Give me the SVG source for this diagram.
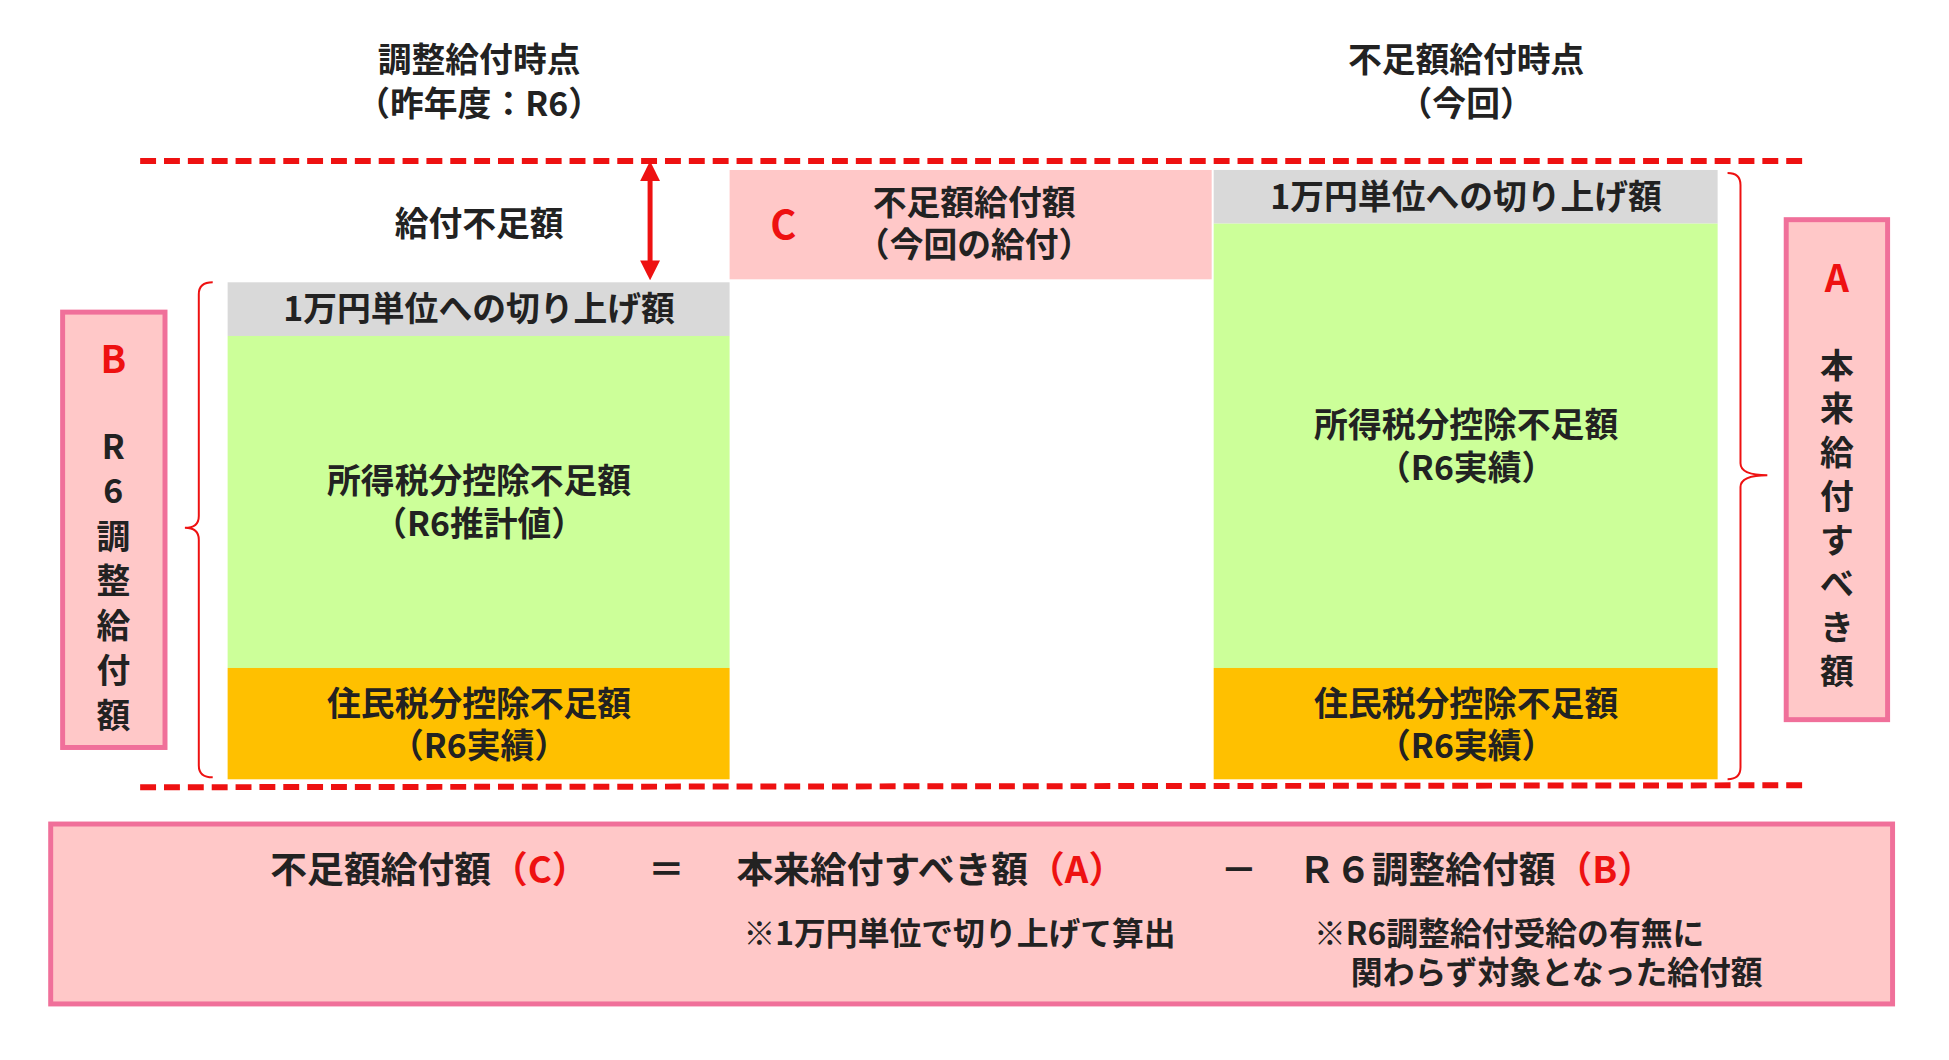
<svg xmlns="http://www.w3.org/2000/svg" width="1949" height="1060" viewBox="0 0 1949 1060">
<style>
text{font-family:"Noto Sans CJK JP","Noto Sans",sans-serif;font-weight:bold;fill:#222}
.m{text-anchor:middle}
.r{fill:#ee1111}
.gray{fill:#d9d9d9}.green{fill:#ccff99}.orange{fill:#ffc000}
.pink{fill:#ffc8c8;stroke:#f0709a;stroke-width:5}
.dash{stroke:#ee1111;stroke-width:6;stroke-dasharray:16,8}
.br{fill:none;stroke:#ee1111;stroke-width:2}
</style>
<defs><marker id="ah" viewBox="0 0 10 10" refX="5" refY="5" markerWidth="4" markerHeight="4" orient="auto-start-reverse"><path d="M0,0L10,5L0,10z" fill="#ee1111"/></marker></defs>
<g transform="scale(0.994)">
<g id="headers">
<text class="m" x="482" y="72" font-size="34">調整給付時点</text>
<text class="m" x="482" y="117" font-size="34">（昨年度：R6）</text>
<text class="m" x="1475" y="72" font-size="34">不足額給付時点</text>
<text class="m" x="1475" y="117" font-size="34">（今回）</text>
</g>
<g id="left-col">
<rect class="gray" x="229" y="284" width="505" height="54"/>
<text class="m" x="482" y="323" font-size="34">1万円単位への切り上げ額</text>
<rect class="green" x="229" y="338" width="505" height="334"/>
<text class="m" x="482" y="496" font-size="34">所得税分控除不足額</text>
<text class="m" x="482" y="539" font-size="34">（R6推計値）</text>
<rect class="orange" x="229" y="672" width="505" height="112"/>
<text class="m" x="482" y="720" font-size="34">住民税分控除不足額</text>
<text class="m" x="482" y="763" font-size="34">（R6実績）</text>
</g>
<g id="shortfall">
<text class="m" x="482" y="237" font-size="34">給付不足額</text>
</g>
<g id="c-box">
<rect x="734" y="171" width="485" height="110" fill="#ffc8c8"/>
<text class="r" x="775" y="240" font-size="40">C</text>
<text class="m" x="980" y="216" font-size="34">不足額給付額</text>
<text class="m" x="980" y="259" font-size="34">（今回の給付）</text>
</g>
<g id="right-col">
<rect class="gray" x="1221" y="171" width="507" height="54"/>
<text class="m" x="1475" y="210" font-size="34">1万円単位への切り上げ額</text>
<rect class="green" x="1221" y="225" width="507" height="447"/>
<text class="m" x="1475" y="440" font-size="34">所得税分控除不足額</text>
<text class="m" x="1475" y="483" font-size="34">（R6実績）</text>
<rect class="orange" x="1221" y="672" width="507" height="112"/>
<text class="m" x="1475" y="720" font-size="34">住民税分控除不足額</text>
<text class="m" x="1475" y="763" font-size="34">（R6実績）</text>
</g>
<g id="b-box">
<rect class="pink" x="63" y="314" width="103" height="438"/>
<text class="m r" x="114" y="375" font-size="38">B</text>
<text class="m" x="114" y="462" font-size="34">R</text>
<text class="m" x="114" y="506" font-size="34">6</text>
<text class="m" x="114" y="552" font-size="34">調</text>
<text class="m" x="114" y="597" font-size="34">整</text>
<text class="m" x="114" y="642" font-size="34">給</text>
<text class="m" x="114" y="687" font-size="34">付</text>
<text class="m" x="114" y="732" font-size="34">額</text>
</g>
<g id="a-box">
<rect class="pink" x="1797" y="221" width="102" height="503"/>
<text class="m r" x="1848" y="294" font-size="38">A</text>
<text class="m" x="1848" y="380" font-size="34">本</text>
<text class="m" x="1848" y="424" font-size="34">来</text>
<text class="m" x="1848" y="468" font-size="34">給</text>
<text class="m" x="1848" y="512" font-size="34">付</text>
<text class="m" x="1848" y="556" font-size="34">す</text>
<text class="m" x="1848" y="600" font-size="34">べ</text>
<text class="m" x="1848" y="644" font-size="34">き</text>
<text class="m" x="1848" y="688" font-size="34">額</text>
</g>
<g id="formula">
<rect class="pink" x="51" y="829" width="1853" height="181"/>
<text x="272" y="888" font-size="37">不足額給付額<tspan class="r">（C）</tspan></text>
<text x="652" y="888" font-size="37">＝</text>
<text x="741" y="888" font-size="37">本来給付すべき額<tspan class="r">（A）</tspan></text>
<text x="1228" y="888" font-size="37">－</text>
<text x="1306" y="888" font-size="37">Ｒ６調整給付額<tspan class="r">（B）</tspan></text>
<text x="748" y="951" font-size="32">※1万円単位で切り上げて算出</text>
<text x="1322" y="951" font-size="32">※R6調整給付受給の有無に</text>
<text x="1359" y="990" font-size="32">関わらず対象となった給付額</text>
</g>
<g id="connectors">
<line class="dash" x1="141" y1="162" x2="1819" y2="162"/>
<line class="dash" x1="141" y1="792" x2="1819" y2="790"/>
<line x1="654" y1="172" x2="654" y2="272" stroke="#ee1111" stroke-width="5" marker-start="url(#ah)" marker-end="url(#ah)"/>
<path class="br" d="M214,284 Q200,284 200,296 L200,519 Q200,531 186,531 Q200,531 200,543 L200,770 Q200,782 214,782"/>
<path class="br" d="M1738,174 Q1751,174 1751,186 L1751,466 Q1751,478 1778,478 Q1751,478 1751,490 L1751,772 Q1751,784 1738,784"/>
</g>
</g>
</svg>
